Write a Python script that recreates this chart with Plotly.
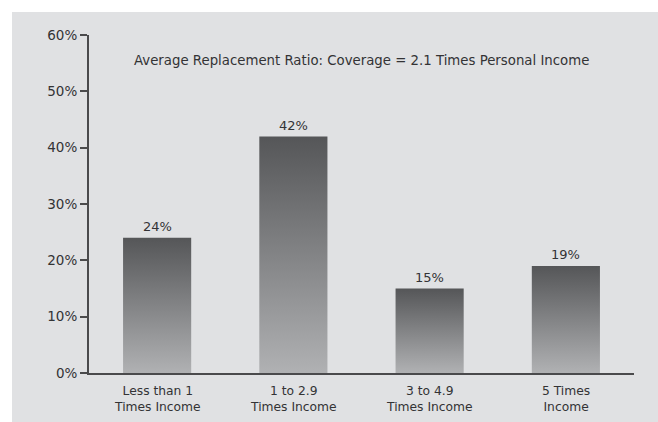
import plotly.graph_objects as go

categories = ["Less than 1<br>Times Income", "1 to 2.9<br>Times Income",
              "3 to 4.9<br>Times Income", "5 Times<br>Income"]
values = [24, 42, 15, 19]
value_labels = ["24%", "42%", "15%", "19%"]
y_ticks = [0, 10, 20, 30, 40, 50, 60]
y_tick_labels = ["0%", "10%", "20%", "30%", "40%", "50%", "60%"]
title_text = "Average Replacement Ratio: Coverage = 2.1 Times Personal Income"

FONT = "DejaVu Sans"
TXT = "#333335"
AX = "#4a4a4c"
BAR_HALF = 0.25

fig = go.Figure()
for i, v in enumerate(values):
    fig.add_trace(go.Scatter(
        x=[i - BAR_HALF, i + BAR_HALF, i + BAR_HALF, i - BAR_HALF, i - BAR_HALF],
        y=[0, 0, v, v, 0],
        mode="lines", line=dict(width=0), fill="toself",
        fillgradient=dict(type="vertical",
                          colorscale=[[0, "#b0b1b3"], [1, "#555658"]]),
        hoverinfo="skip", showlegend=False))

for i, (v, lab) in enumerate(zip(values, value_labels)):
    fig.add_annotation(x=i, y=v, text=lab, showarrow=False, yanchor="middle",
                       yshift=11, font=dict(family=FONT, size=13, color=TXT))

for i, cat in enumerate(categories):
    fig.add_annotation(x=i, xref="x", y=0, yref="paper", text=cat,
                       showarrow=False, yanchor="middle", yshift=-26,
                       font=dict(family=FONT, size=12.3, color=TXT))

fig.add_annotation(text=title_text, xref="paper", yref="paper", x=0.5,
                   y=(373 - 61) / 338, yanchor="middle", showarrow=False,
                   font=dict(family=FONT, size=13.3, color=TXT))

fig.add_shape(type="rect", xref="paper", yref="paper", x0=-0.1413, x1=1.2,
              y0=-0.3, y1=1.068, fillcolor="#e0e1e3", line=dict(width=0),
              layer="below")

fig.update_layout(
    width=658, height=422,
    margin=dict(l=89, r=24, t=35, b=49),
    paper_bgcolor="white", plot_bgcolor="rgba(0,0,0,0)",
    xaxis=dict(range=[-0.5, 3.5], tickvals=list(range(len(categories))),
               showticklabels=False, showgrid=False, zeroline=False,
               showline=True, linecolor=AX, linewidth=2, ticks="",
               layer="below traces"),
    yaxis=dict(range=[0, 60], tickvals=y_ticks, ticktext=y_tick_labels,
               showgrid=False, zeroline=False, showline=True, linecolor=AX,
               linewidth=2, ticks="outside", ticklen=7, tickwidth=1.5,
               tickcolor=AX, tickfont=dict(family=FONT, size=13.5, color=TXT)),
    font=dict(family=FONT, color=TXT),
)

fig.write_html("out.html")
